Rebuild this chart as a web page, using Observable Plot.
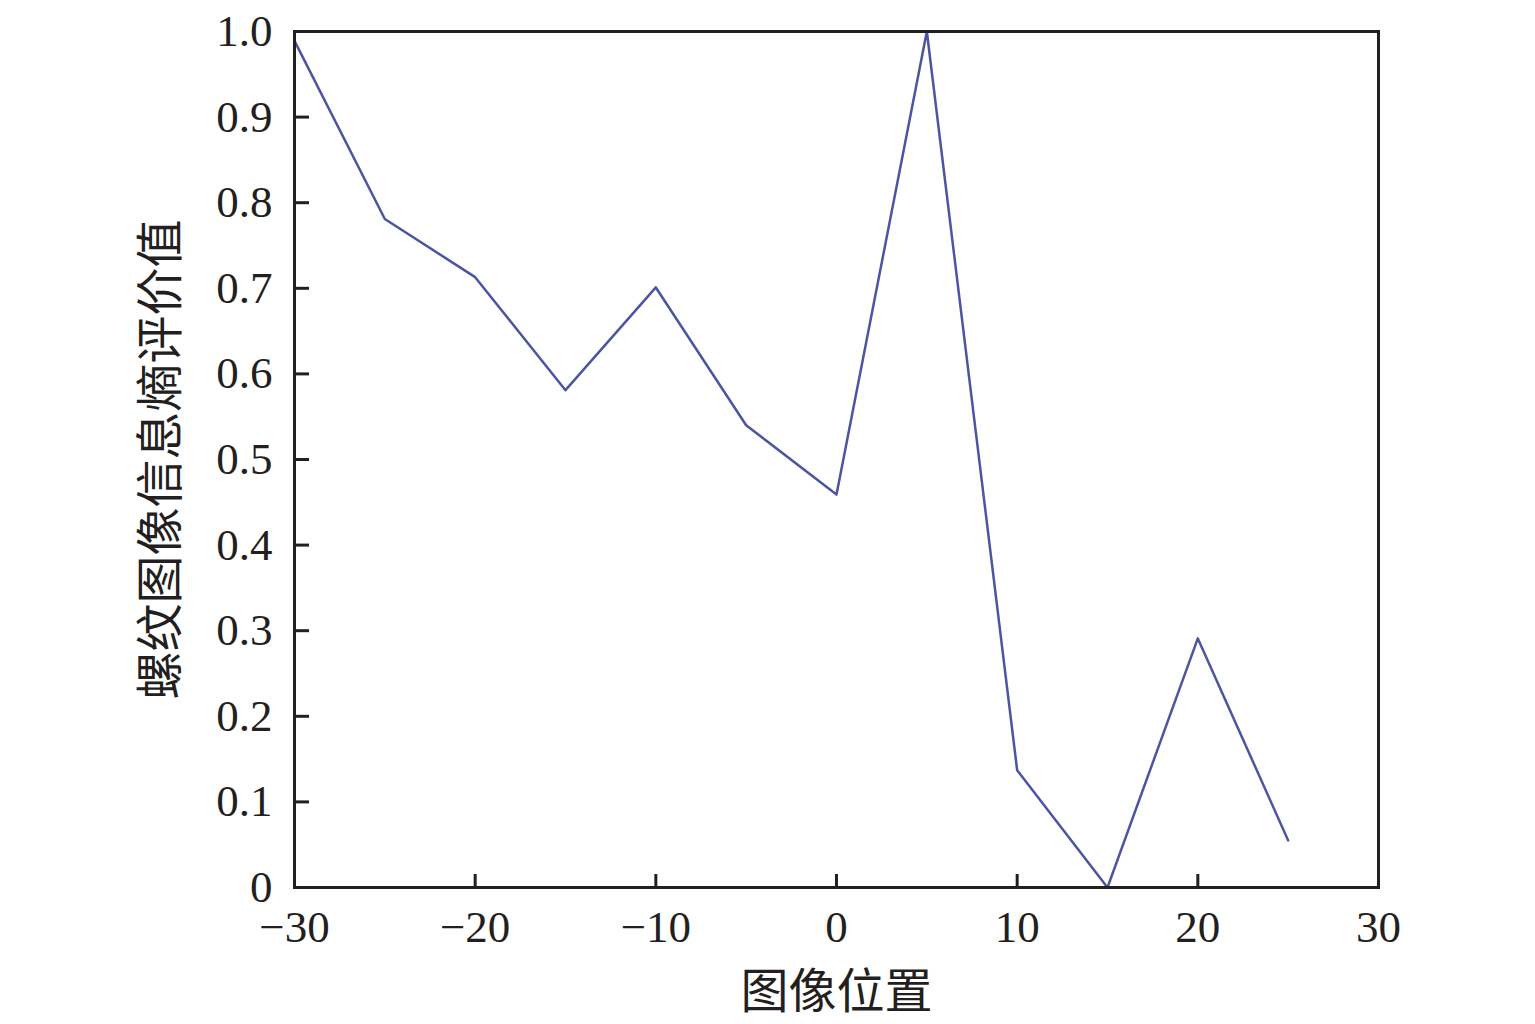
<!DOCTYPE html>
<html><head><meta charset="utf-8">
<script src="https://cdn.jsdelivr.net/npm/d3@7"></script>
<script src="https://cdn.jsdelivr.net/npm/@observablehq/plot@0.6"></script>
<style>body{margin:0;background:#fff;}</style>
</head><body><div id="chart"></div>
<script>
const positions = [-30, -25, -20, -15, -10, -5, 0, 5, 10, 15, 20, 25];
const entropy = [0.989, 0.781, 0.713, 0.581, 0.701, 0.540, 0.459, 1.0, 0.137, 0.0, 0.291, 0.055];
const xTicks = [-30, -20, -10, 0, 10, 20, 30];
const yTicks = [0, 0.1, 0.2, 0.3, 0.4, 0.5, 0.6, 0.7, 0.8, 0.9, 1.0];
const xLabel = "图像位置";
const yLabel = "螺纹图像信息熵评价值";

const data = positions.map((p, i) => ({x: p, y: entropy[i]}));
const ink = "#231f20";

const chart = Plot.plot({
  width: 1535, height: 1024,
  marginLeft: 294, marginRight: 157, marginTop: 31, marginBottom: 137,
  style: {fontFamily: "'Liberation Serif', 'Noto Sans CJK SC', serif", fontSize: "44px", color: ink, background: "#fff"},
  x: {domain: [-30, 30]},
  y: {domain: [0, 1]},
  marks: [
    Plot.axisX(xTicks, {tickSize: -13, tickPadding: 36, stroke: ink, strokeWidth: 3, fill: ink, fontSize: 45,
      tickFormat: d => d < 0 ? "\u2212" + Math.abs(d) : String(d), label: null}),
    Plot.axisX({label: xLabel, labelAnchor: "center", labelArrow: "none", labelOffset: 120,
      ticks: [], tickSize: 0, fontSize: 48, fill: ink}),
    Plot.axisY(yTicks, {tickSize: -15, tickPadding: 37, stroke: ink, strokeWidth: 3, fill: ink, fontSize: 45,
      tickFormat: d => d === 0 ? "0" : d.toFixed(1), label: null}),
    Plot.axisY({label: yLabel, labelAnchor: "center", labelArrow: "none", labelOffset: 152,
      ticks: [], tickSize: 0, fontSize: 48, fill: ink}),
    Plot.line(data, {x: "x", y: "y", stroke: "#4b55a2", strokeWidth: 2.5}),
    Plot.frame({stroke: ink, strokeWidth: 3})
  ]
});
document.getElementById("chart").appendChild(chart);
</script>
</body></html>
